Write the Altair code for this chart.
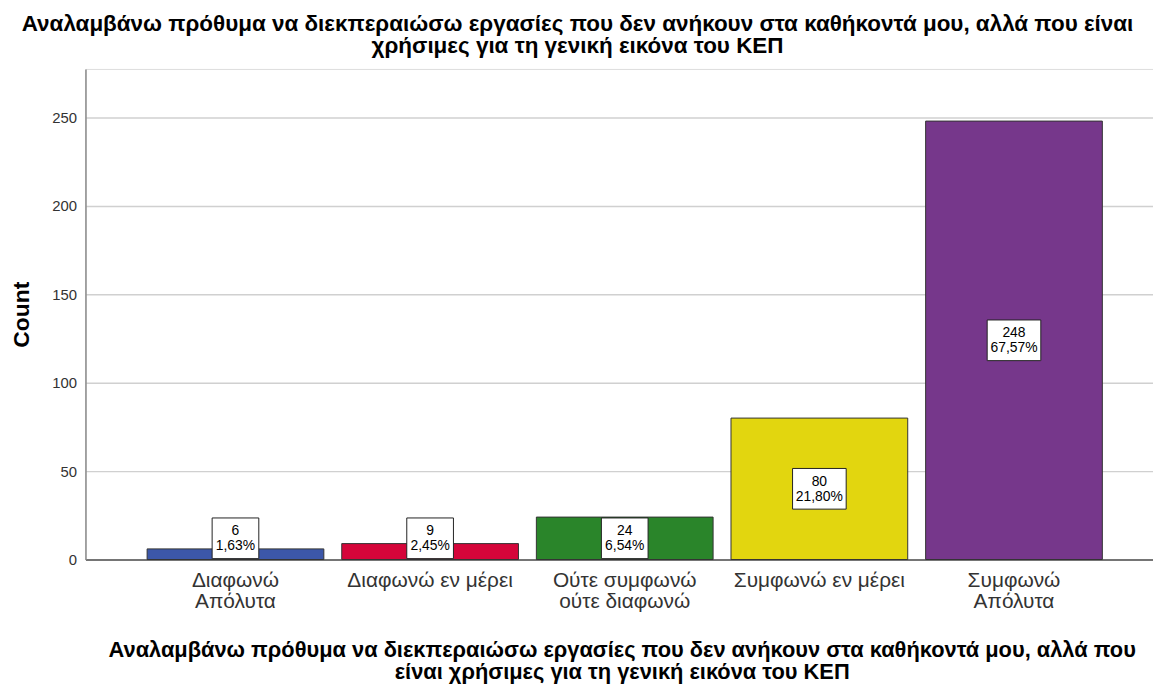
import altair as alt
import pandas as pd

categories = ["Διαφωνώ|Απόλυτα", "Διαφωνώ εν μέρει", "Ούτε συμφωνώ|ούτε διαφωνώ",
              "Συμφωνώ εν μέρει", "Συμφωνώ|Απόλυτα"]
counts = [6, 9, 24, 80, 248]
pct_labels = ["1,63%", "2,45%", "6,54%", "21,80%", "67,57%"]
colors = ["#3c57a9", "#d5053a", "#2a852a", "#e2d60f", "#76378b"]

title_lines = ["Αναλαμβάνω πρόθυμα να διεκπεραιώσω εργασίες που δεν ανήκουν στα καθήκοντά μου, αλλά που είναι",
               "χρήσιμες για τη γενική εικόνα του ΚΕΠ"]
xtitle_lines = ["Αναλαμβάνω πρόθυμα να διεκπεραιώσω εργασίες που δεν ανήκουν στα καθήκοντά μου, αλλά που",
                "είναι χρήσιμες για τη γενική εικόνα του ΚΕΠ"]

df = pd.DataFrame({"cat": categories, "count": counts, "pct": pct_labels, "color": colors})

FONT = "Liberation Sans"

x = alt.X("cat:N", sort=categories,
          scale=alt.Scale(paddingInner=0.092, paddingOuter=0.2885, align=0.549),
          axis=alt.Axis(title=xtitle_lines, labelExpr="split(datum.label, '|')",
                        labelAngle=0, labelFontSize=21, labelColor="#333333",
                        labelFont=FONT, labelBaseline="top", labelPadding=10,
                        labelLineHeight=21, ticks=False, domainColor="#555555",
                        domainWidth=1.5, grid=False,
                        titleFontSize=22, titleFont=FONT, titleFontWeight="bold",
                        titleColor="#000000", titleBaseline="top", titleX=540,
                        titleY=81, titleLineHeight=22, titleAlign="center"))

y = alt.Y("count:Q", scale=alt.Scale(domain=[0, 277.5], nice=False, zero=True),
          axis=alt.Axis(title="Count", values=[0, 50, 100, 150, 200, 250],
                        labelFontSize=15, labelColor="#333333", labelFont=FONT,
                        labelPadding=9, ticks=False, domainColor="#8a8a8a",
                        domainWidth=1.5, gridColor="#d0d0d0", gridWidth=1.5,
                        titleFontSize=23, titleFont=FONT, titleFontWeight="bold",
                        titleColor="#000000", titleX=-64, titleY=247,
                        titleAlign="center", titleBaseline="middle", titleAngle=270))

bars = alt.Chart(df).mark_bar(stroke="#333333", strokeWidth=1).encode(
    x=x, y=y,
    color=alt.Color("color:N", scale=None),
)

lab = alt.Chart(df).transform_calculate(
    center="max(datum.count / 2, 12)",
    y0="max(datum.count / 2, 12) - 11.5",
    y1="max(datum.count / 2, 12) + 11.5",
    boxw="7 * length(datum.pct) + 12",
    txt="datum.count + '\\n' + datum.pct",
)

boxes = lab.mark_bar(fill="white", stroke="#222222", strokeWidth=1).encode(
    x=alt.X("cat:N", sort=categories),
    y=alt.Y("y0:Q"),
    y2="y1:Q",
    size=alt.Size("boxw:Q", scale=None, legend=None),
)

texts = lab.mark_text(font=FONT, fontSize=14, color="#000000", lineBreak="\n",
                      lineHeight=15, baseline="middle", align="center", dy=-7).encode(
    x=alt.X("cat:N", sort=categories),
    y=alt.Y("center:Q"),
    text="txt:N",
)

chart = alt.layer(bars, boxes, texts).properties(
    width=1075, height=494,
    title=alt.TitleParams(text=title_lines, fontSize=22.6, font=FONT, fontWeight="bold",
                          color="#000000", anchor="middle", dx=-42, offset=11,
                          lineHeight=23),
    autosize=alt.AutoSizeParams(type="none"),
    padding={"left": 78, "top": 59, "right": 0, "bottom": 124},
).configure_view(stroke=None).configure(font=FONT, background="white")

chart.save("out.html", embed_options={"renderer": "svg", "actions": False})
